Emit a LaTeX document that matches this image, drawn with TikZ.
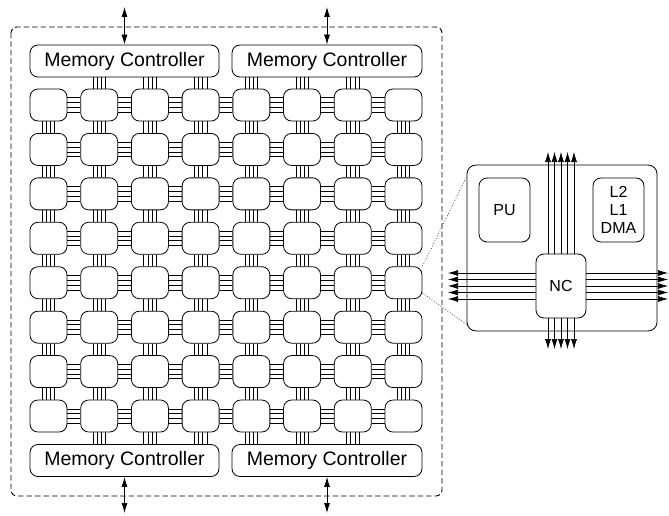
\documentclass[tikz,border=0pt]{standalone}
\usepackage{fontspec}
\setmainfont{Liberation Sans}
\usetikzlibrary{arrows.meta}
\begin{document}
\begin{tikzpicture}[x=1pt,y=-1pt,
  tile/.style={draw, rounded corners=8pt, minimum width=37pt, minimum height=32pt, inner sep=0pt, line width=0.8pt},
  mc/.style={draw, rounded corners=8pt, minimum height=32pt, inner sep=0pt, line width=0.8pt, font=\fontsize{19.5}{22}\selectfont},
  sub/.style={draw, rounded corners=8pt, inner sep=0pt, line width=0.8pt, align=center, font=\fontsize{16}{18.3}\selectfont},
  link/.style={line width=0.6pt},
  dbl/.style={{Latex[length=10pt,width=6pt]}-{Latex[length=10pt,width=6pt]}, line width=0.8pt},
  ncarrow/.style={-{Latex[length=10pt,width=6pt]}, line width=0.6pt},
  zoomline/.style={dotted, line width=0.8pt, black!70}]
\useasboundingbox (0,0) rectangle (669,516);
% dashed chip outline
\draw[dash pattern=on 5.5pt off 3pt, line width=0.9pt, rounded corners=6pt] (11,27) rectangle (442,496);
% tiles
\foreach \i in {0,...,7}
  \foreach \j in {0,...,7}
    \node[tile] (t-\i-\j) at ({48.5+\i*50.714},{105+\j*44.43}) {};
% memory controllers
\node[mc, minimum width=189pt] (mc1) at (124.5,61) {Memory Controller};
\node[mc, minimum width=190pt] (mc2) at (327,61) {Memory Controller};
\node[mc, minimum width=189pt] (mc3) at (124.5,460.5) {Memory Controller};
\node[mc, minimum width=190pt] (mc4) at (327,460.5) {Memory Controller};
% vertical and horizontal links
\foreach \i in {0,...,7} {
  \foreach \j in {0,...,6} {
    \pgfmathtruncatemacro{\nx}{\j+1}
    \foreach \o in {-6.2,-2.1,2.1,6.2}
      \draw[link] ([xshift=\o pt]t-\i-\j.south) -- ([xshift=\o pt]t-\i-\nx.north);
  }
}
\foreach \i in {0,...,6} {
  \pgfmathtruncatemacro{\nx}{\i+1}
  \foreach \j in {0,...,7} {
    \foreach \o in {-7.2,-2.4,2.4,7.2}
      \draw[link] ([yshift=\o pt]t-\i-\j.east) -- ([yshift=\o pt]t-\nx-\j.west);
  }
}
% links to memory controllers
\foreach \i/\mtop/\mbot in {1/mc1/mc3,2/mc1/mc3,3/mc1/mc3,4/mc2/mc4,5/mc2/mc4,6/mc2/mc4}
  \foreach \o in {-6.2,-2.1,2.1,6.2} {
    \draw[link] ([xshift=\o pt]t-\i-0.north) -- ([xshift=\o pt]t-\i-0.north |- \mtop.south);
    \draw[link] ([xshift=\o pt]t-\i-7.south) -- ([xshift=\o pt]t-\i-7.south |- \mbot.north);
  }
% off-chip arrows
\coordinate (a1) at (124.5,7);
\coordinate (a2) at (327,7);
\coordinate (a3) at (124.5,513);
\coordinate (a4) at (327,513);
\draw[dbl] (a1) -- (mc1.north);
\draw[dbl] (a2) -- (mc2.north);
\draw[dbl] (mc3.south) -- (a3);
\draw[dbl] (mc4.south) -- (a4);
% tile detail
\node[draw, rounded corners=9pt, minimum width=190pt, minimum height=166pt, inner sep=0pt, line width=0.8pt] (det) at (562,248) {};
\node[sub, minimum width=51pt, minimum height=64pt] (pu) at (504.5,210) {PU};
\node[sub, minimum width=51pt, minimum height=64pt] (mem) at (618.5,210) {L2\\L1\\DMA};
\node[sub, minimum width=50pt, minimum height=64pt, fill=white] (nc) at (561,286) {NC};
\coordinate (nctop) at (561,152);
\coordinate (ncbot) at (561,349);
\coordinate (ncleft) at (448,286);
\coordinate (ncright) at (668,286);
\foreach \o in {-13,-6.5,0,6.5,13} {
  \draw[ncarrow] ([xshift=\o pt]nc.north) -- ([xshift=\o pt]nctop);
  \draw[ncarrow] ([xshift=\o pt]nc.south) -- ([xshift=\o pt]ncbot);
  \draw[ncarrow] ([yshift=\o pt]nc.west) -- ([yshift=\o pt]ncleft);
  \draw[ncarrow] ([yshift=\o pt]nc.east) -- ([yshift=\o pt]ncright);
}
% zoom lines
\draw[zoomline] (t-7-4.north east) -- ([yshift=-12pt]det.north west);
\draw[zoomline] ([yshift=6pt]t-7-4.south east) -- ([yshift=7pt]det.south west);
\end{tikzpicture}
\end{document}
